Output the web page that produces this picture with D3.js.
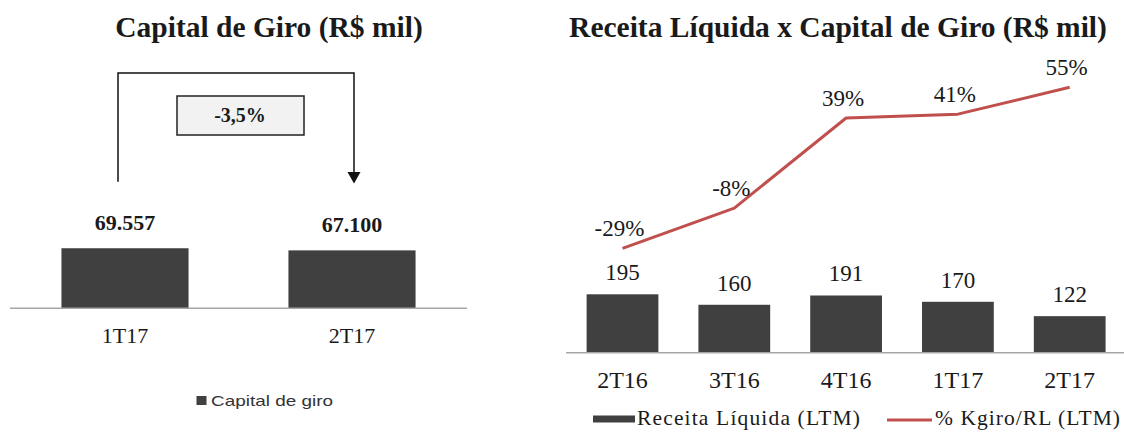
<!DOCTYPE html>
<html>
<head>
<meta charset="utf-8">
<script src="https://cdn.jsdelivr.net/npm/d3@7"></script>
<style>
  html, body { margin: 0; padding: 0; background: #ffffff; }
  svg { display: block; }
</style>
</head>
<body>
<svg id="chart" width="1124" height="432"></svg>
<script>
// ---------- DATA ----------
const leftTitle = "Capital de Giro (R$ mil)";
const leftCategories = ["1T17", "2T17"];
const leftValues = [69557, 67100];
const leftValueLabels = ["69.557", "67.100"];
const leftChangeLabel = "-3,5%";
const leftLegendLabel = "Capital de giro";

const rightTitle = "Receita Líquida x Capital de Giro (R$ mil)";
const rightCategories = ["2T16", "3T16", "4T16", "1T17", "2T17"];
const receitaValues = [195, 160, 191, 170, 122];
const kgiroPct = [-29, -8, 39, 41, 55];
const rightLegendLabels = ["Receita Líquida (LTM)", "% Kgiro/RL (LTM)"];

// ---------- STYLE ----------
const barColor = "#404040";
const lineColor = "#c0504d";
const axisColor = "#a6a6a6";
const textColor = "#1a1a1a";
const serif = "'Liberation Serif', 'Times New Roman', serif";
const sans = "'Liberation Sans', Arial, sans-serif";

const svg = d3.select("#chart");
svg.append("rect").attr("width", 1124).attr("height", 432).attr("fill", "#fff");

// ================= LEFT CHART =================
const L = svg.append("g");
const xL = d3.scaleBand().domain(leftCategories).range([11.5, 465.5])
  .paddingInner(0.44).paddingOuter(0.22);
const yL = d3.scaleLinear().domain([0, 276000]).range([308.3, 70]);

L.append("text").attr("x", 269).attr("y", 37).attr("text-anchor", "middle")
  .attr("font-family", serif).attr("font-weight", "bold").attr("font-size", 29.5)
  .attr("fill", textColor).text(leftTitle);

L.selectAll("rect.bar").data(leftValues).join("rect").attr("class", "bar")
  .attr("x", (d, i) => xL(leftCategories[i]))
  .attr("width", xL.bandwidth())
  .attr("y", d => yL(d))
  .attr("height", d => yL(0) - yL(d))
  .attr("fill", barColor);

// baseline axis
const axL = L.append("g").attr("transform", `translate(0,${yL(0)})`)
  .call(d3.axisBottom(xL).tickSize(0).tickPadding(0));
axL.select(".domain").attr("stroke", axisColor).attr("stroke-width", 1.5)
  .attr("d", "M10,0H467");
axL.selectAll(".tick text").attr("font-family", serif).attr("font-size", 22)
  .attr("fill", textColor).attr("dy", null).attr("y", 35);

L.selectAll("text.val").data(leftValues).join("text").attr("class", "val")
  .attr("x", (d, i) => xL(leftCategories[i]) + xL.bandwidth() / 2)
  .attr("y", d => yL(d) - 18)
  .attr("text-anchor", "middle").attr("font-family", serif)
  .attr("font-weight", "bold").attr("font-size", 22).attr("fill", textColor)
  .text((d, i) => leftValueLabels[i]);

// bracket with arrow
const bx1 = xL(leftCategories[0]) + xL.bandwidth() / 2 - 7;
const bx2 = xL(leftCategories[1]) + xL.bandwidth() / 2 + 2;
const bTop = 73;
L.append("path")
  .attr("d", `M${bx1},181.7V${bTop}H${bx2}V173`)
  .attr("fill", "none").attr("stroke", "#111").attr("stroke-width", 1.5);
L.append("path")
  .attr("d", `M${bx2 - 6.5},172L${bx2 + 6.5},172L${bx2},183.5Z`)
  .attr("fill", "#111");
L.append("rect").attr("x", 177).attr("y", 96).attr("width", 127).attr("height", 39)
  .attr("fill", "#f2f2f2").attr("stroke", "#222").attr("stroke-width", 1.5);
L.append("text").attr("x", 240).attr("y", 122).attr("text-anchor", "middle")
  .attr("font-family", serif).attr("font-weight", "bold").attr("font-size", 20)
  .attr("fill", textColor).text(leftChangeLabel);

// legend
L.append("rect").attr("x", 196.5).attr("y", 396).attr("width", 10).attr("height", 9)
  .attr("fill", barColor);
L.append("text").attr("x", 211).attr("y", 405.5).attr("font-family", sans)
  .attr("font-size", 15).attr("fill", "#333").attr("textLength", 122)
  .attr("lengthAdjust", "spacingAndGlyphs").text(leftLegendLabel);

// ================= RIGHT CHART =================
const R = svg.append("g");
const xR = d3.scaleBand().domain(rightCategories).range([566.6, 1125.6])
  .paddingInner(0.358).paddingOuter(0.179);
const yR = d3.scaleLinear().domain([0, 600]).range([352.7, 173]);
const yP = d3.scaleLinear().domain([-60, 80]).range([307.7, 39.4]);

R.append("text").attr("x", 838).attr("y", 37).attr("text-anchor", "middle")
  .attr("font-family", serif).attr("font-weight", "bold").attr("font-size", 29.5)
  .attr("fill", textColor).text(rightTitle);

R.selectAll("rect.bar").data(receitaValues).join("rect").attr("class", "bar")
  .attr("x", (d, i) => xR(rightCategories[i]))
  .attr("width", xR.bandwidth())
  .attr("y", d => yR(d))
  .attr("height", d => yR(0) - yR(d))
  .attr("fill", barColor);

const axR = R.append("g").attr("transform", `translate(0,${yR(0)})`)
  .call(d3.axisBottom(xR).tickSize(0).tickPadding(0));
axR.select(".domain").attr("stroke", axisColor).attr("stroke-width", 1.5)
  .attr("d", "M566,0H1124");
axR.selectAll(".tick text").attr("font-family", serif).attr("font-size", 24)
  .attr("fill", textColor).attr("dy", null).attr("y", 35);

R.selectAll("text.val").data(receitaValues).join("text").attr("class", "val")
  .attr("x", (d, i) => xR(rightCategories[i]) + xR.bandwidth() / 2)
  .attr("y", d => yR(d) - 14)
  .attr("text-anchor", "middle").attr("font-family", serif)
  .attr("font-size", 23).attr("fill", textColor)
  .text(d => d);

const cx = (i) => xR(rightCategories[i]) + xR.bandwidth() / 2;
const line = d3.line().x((d, i) => cx(i)).y(d => yP(d));
R.append("path").datum(kgiroPct).attr("d", line)
  .attr("fill", "none").attr("stroke", lineColor).attr("stroke-width", 3)
  .attr("stroke-linejoin", "round");

R.selectAll("text.pct").data(kgiroPct).join("text").attr("class", "pct")
  .attr("x", (d, i) => cx(i) - 3)
  .attr("y", d => yP(d) - 12)
  .attr("text-anchor", "middle").attr("font-family", serif)
  .attr("font-size", 23).attr("fill", textColor)
  .text(d => d + "%");

// legend
R.append("rect").attr("x", 593).attr("y", 415.5).attr("width", 42).attr("height", 7)
  .attr("fill", barColor);
R.append("text").attr("x", 637).attr("y", 425).attr("font-family", serif)
  .attr("font-size", 21.5).attr("fill", textColor).attr("textLength", 223)
  .attr("lengthAdjust", "spacing").text(rightLegendLabels[0]);
R.append("line").attr("x1", 887).attr("x2", 932).attr("y1", 420).attr("y2", 420)
  .attr("stroke", lineColor).attr("stroke-width", 3);
R.append("text").attr("x", 935).attr("y", 425).attr("font-family", serif)
  .attr("font-size", 21.5).attr("fill", textColor).attr("textLength", 185)
  .attr("lengthAdjust", "spacing").text(rightLegendLabels[1]);
</script>
</body>
</html>
